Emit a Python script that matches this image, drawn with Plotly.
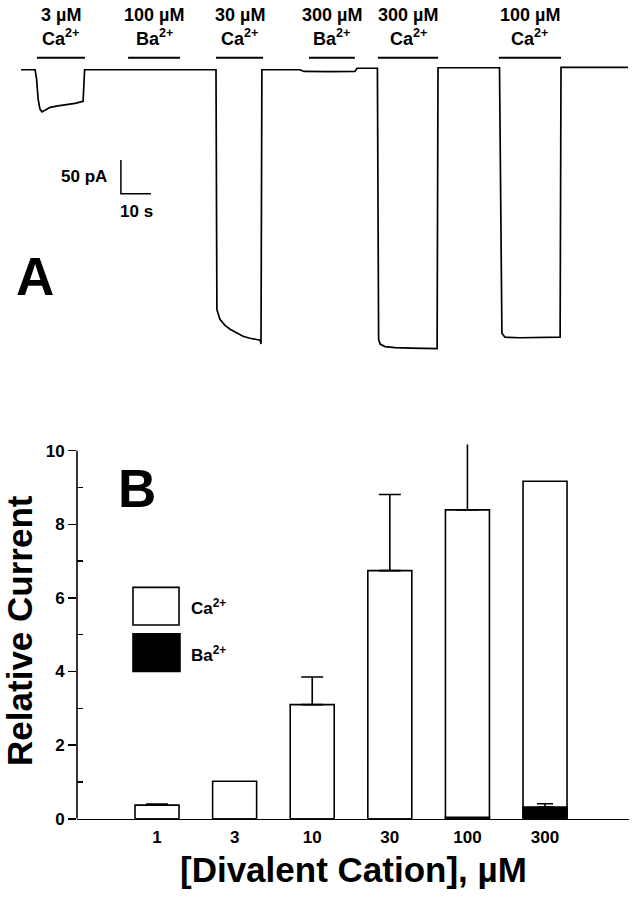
import plotly.graph_objects as go

W, H = 634, 899
FONT = "Liberation Sans, Arial, Helvetica, sans-serif"

# ---------------- Panel A data: whole-cell current trace ----------------
trace_t = [0, 4.7, 5.2, 5.7, 6.3, 7.0, 8.0, 9.7, 12.3, 15.3, 18.0, 20.7, 21.0, 21.2,
           65.0, 65.3, 66.3, 68.0, 69.7, 72.0, 74.0, 76.3, 79.7, 80.0, 80.3,
           93.0, 94.3, 103.0, 111.3, 112.0,
           118.8, 119.2, 119.7, 121.3, 124.7, 129.7, 134.7, 138.7, 139.0,
           159.5, 160.3, 161.3, 166.3, 173.0, 179.7, 180.0, 202.3]
trace_i = [0, 0, -13.8, -43, -57.6, -62, -59.8, -55.4, -53.2, -51.7, -49.6, -46.6, -2.2, 0,
           0, -353.5, -368, -376.8, -382.6, -388.5, -392.9, -395.8, -398.7, -404.5, 0,
           0, -2.5, -2.8, -2.5, 2.2,
           2.2, -397.2, -404.5, -408.2, -409.6, -410.3, -410.3, -411, 2.9,
           2.9, -388.5, -394.3, -395.1, -395.1, -394.3, 3.6, 3.6]

# solution application periods (s)
sol_conc = ["3 µM", "100 µM", "30 µM", "300 µM", "300 µM", "100 µM"]
sol_ion = ["Ca<sup>2+</sup>", "Ba<sup>2+</sup>", "Ca<sup>2+</sup>",
           "Ba<sup>2+</sup>", "Ca<sup>2+</sup>", "Ca<sup>2+</sup>"]
sol_start = [5.3, 35.7, 65.0, 96.0, 119.0, 159.3]
sol_end = [21.3, 53.0, 80.7, 111.3, 139.0, 180.0]
SOL_LEVEL = 17.8  # pA, height of application bars above baseline

# scale bar
SCALE_T0, SCALE_I0 = 33.3, -183.0
SCALE_T_LEN, SCALE_I_LEN = 10, 50

# ---------------- Panel B data: relative current ----------------
conc_labels = ["1", "3", "10", "30", "100", "300"]
ca_mean = [0.37, 1.02, 3.10, 6.74, 8.39, 9.17]
ca_err = [0.03, None, 0.75, 2.07, 1.99, None]
ba_mean = [0, 0, 0, 0, 0.04, 0.32]
ba_err = [None, None, None, None, None, 0.09]
y_ticks = [0, 2, 4, 6, 8, 10]
y_minor = [1, 3, 5, 7, 9]

cats = list(range(len(conc_labels)))

Y_AXIS_TOP = 10          # drawn extent of the y axis line
Y_RANGE_TOP = 11.2       # room for error bars above the axis
PX_PER_UNIT = (828 - 455.7) / 10


def px(x):
    return x / W


def py(y):
    return 1 - y / H


fig = go.Figure()

# ---- Panel A ----
fig.add_trace(go.Scatter(x=trace_t, y=trace_i, mode="lines",
                         line=dict(color="black", width=1.7),
                         xaxis="x2", yaxis="y2", showlegend=False, hoverinfo="skip"))
for s, e in zip(sol_start, sol_end):
    fig.add_trace(go.Scatter(x=[s, e], y=[SOL_LEVEL, SOL_LEVEL], mode="lines",
                             line=dict(color="black", width=2),
                             xaxis="x2", yaxis="y2", showlegend=False, hoverinfo="skip"))
fig.add_trace(go.Scatter(x=[SCALE_T0, SCALE_T0, SCALE_T0 + SCALE_T_LEN],
                         y=[SCALE_I0 + SCALE_I_LEN, SCALE_I0, SCALE_I0],
                         mode="lines", line=dict(color="black", width=1.5),
                         xaxis="x2", yaxis="y2", showlegend=False, hoverinfo="skip"))

annotations = []
for c, ion, s, e in zip(sol_conc, sol_ion, sol_start, sol_end):
    xc = (s + e) / 2
    annotations.append(dict(x=xc, xref="x2", y=py(15), yref="paper", text=c,
                            showarrow=False, xanchor="center", yanchor="middle",
                            font=dict(family=FONT, size=18, color="black", weight="bold")))
    annotations.append(dict(x=xc, xref="x2", y=py(38), yref="paper", text=ion,
                            showarrow=False, xanchor="center", yanchor="middle",
                            font=dict(family=FONT, size=18, color="black", weight="bold")))

annotations.append(dict(x=px(109), y=py(178), xref="paper", yref="paper", text="50 pA",
                        showarrow=False, xanchor="right", yanchor="middle",
                        font=dict(family=FONT, size=17, color="black", weight="bold")))
annotations.append(dict(x=px(136), y=py(214), xref="paper", yref="paper", text="10 s",
                        showarrow=False, xanchor="center", yanchor="middle",
                        font=dict(family=FONT, size=17, color="black", weight="bold")))
annotations.append(dict(x=px(35), y=py(280), xref="paper", yref="paper", text="A",
                        showarrow=False, xanchor="center", yanchor="middle",
                        font=dict(family=FONT, size=53, color="black", weight="bold")))

# ---- Panel B ----
fig.add_trace(go.Bar(x=cats, y=ca_mean, width=0.567,
                     marker=dict(color="white", line=dict(color="black", width=1.6)),
                     showlegend=False, hoverinfo="skip"))
fig.add_trace(go.Bar(x=cats, y=ba_mean, width=0.567,
                     marker=dict(color="black", line=dict(color="black", width=1.6)),
                     showlegend=False, hoverinfo="skip"))

ca_ex = [c for c, e in zip(cats, ca_err) if e is not None]
ca_ey = [m for m, e in zip(ca_mean, ca_err) if e is not None]
ca_ee = [e for e in ca_err if e is not None]
fig.add_trace(go.Scatter(x=ca_ex, y=ca_ey, mode="markers", marker=dict(size=1, opacity=0),
                         error_y=dict(type="data", symmetric=False, array=ca_ee,
                                      arrayminus=[0] * len(ca_ee), color="black",
                                      thickness=1.6, width=11),
                         cliponaxis=False,
                         showlegend=False, hoverinfo="skip"))
ba_ex = [c for c, e in zip(cats, ba_err) if e is not None]
ba_ey = [m for m, e in zip(ba_mean, ba_err) if e is not None]
ba_ee = [e for e in ba_err if e is not None]
fig.add_trace(go.Scatter(x=ba_ex, y=ba_ey, mode="markers", marker=dict(size=1, opacity=0),
                         error_y=dict(type="data", symmetric=False, array=ba_ee,
                                      arrayminus=[0] * len(ba_ee), color="black",
                                      thickness=1.6, width=8),
                         showlegend=False, hoverinfo="skip"))

shapes = [
    # y axis line, only from 0 to 10
    dict(type="line", xref="paper", yref="y", x0=px(77), x1=px(77), y0=0, y1=Y_AXIS_TOP,
         line=dict(color="black", width=1.6)),
    # legend (drawn manually)
    dict(type="rect", xref="paper", yref="paper", x0=px(133), x1=px(179), y0=py(632), y1=py(594),
         line=dict(color="black", width=1.6), fillcolor="white"),
    dict(type="rect", xref="paper", yref="paper", x0=px(133), x1=px(180), y0=py(679), y1=py(641),
         line=dict(color="black", width=1.6), fillcolor="black"),
]
annotations.append(dict(x=px(189), y=py(614), xref="paper", yref="paper", text="Ca<sup>2+</sup>",
                        showarrow=False, xanchor="left", yanchor="middle",
                        font=dict(family=FONT, size=17, color="black", weight="bold")))
annotations.append(dict(x=px(189), y=py(661), xref="paper", yref="paper", text="Ba<sup>2+</sup>",
                        showarrow=False, xanchor="left", yanchor="middle",
                        font=dict(family=FONT, size=17, color="black", weight="bold")))
annotations.append(dict(x=px(137), y=py(494), xref="paper", yref="paper", text="B",
                        showarrow=False, xanchor="center", yanchor="middle",
                        font=dict(family=FONT, size=53, color="black", weight="bold")))
annotations.append(dict(x=px(20), y=py(638), xref="paper", yref="paper", text="Relative Current",
                        showarrow=False, xanchor="center", yanchor="middle", textangle=-90,
                        font=dict(family=FONT, size=35, color="black", weight="bold")))
annotations.append(dict(x=px(353), y=py(879), xref="paper", yref="paper",
                        text="[Divalent Cation], µM",
                        showarrow=False, xanchor="center", yanchor="middle",
                        font=dict(family=FONT, size=35, color="black", weight="bold")))

fig.update_layout(
    width=W, height=H,
    margin=dict(l=0, r=0, t=0, b=0),
    paper_bgcolor="white", plot_bgcolor="white",
    barmode="overlay",
    showlegend=False,
    xaxis=dict(domain=[px(77), px(629)], range=[-1.031, 6.082],
               tickvals=cats, ticktext=conc_labels,
               ticks="outside", ticklen=2, tickcolor="rgba(0,0,0,0)",
               showline=True, linecolor="black", linewidth=1.6,
               showgrid=False, zeroline=False, anchor="y",
               tickfont=dict(family=FONT, size=17, color="black", weight="bold")),
    yaxis=dict(domain=[py(828), py(828 - Y_RANGE_TOP * PX_PER_UNIT)], range=[0, Y_RANGE_TOP],
               tickvals=y_ticks,
               ticks="outside", ticklen=8, tickwidth=1.5, tickcolor="black",
               minor=dict(tickvals=y_minor, ticks="inside", ticklen=6,
                          tickwidth=1.5, tickcolor="black"),
               showline=False,
               showgrid=False, zeroline=False, anchor="x",
               tickfont=dict(family=FONT, size=17, color="black", weight="bold")),
    xaxis2=dict(domain=[0, 1], range=[-7, 204.33], visible=False, anchor="y2"),
    yaxis2=dict(domain=[0.5, 1], range=[-552.5, 102.8], visible=False, anchor="x2"),
    annotations=annotations,
    shapes=shapes,
)

fig.write_html("out.html",
               config={"displayModeBar": False, "staticPlot": True},
               post_script="document.body.style.margin='0';document.body.style.padding='0';")
